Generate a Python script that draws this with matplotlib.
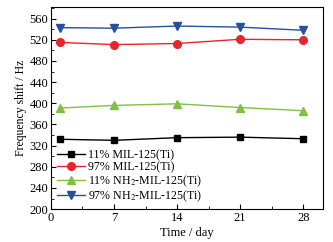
import matplotlib
matplotlib.use("Agg")
import matplotlib.pyplot as plt
from matplotlib.ticker import MultipleLocator

# data
days = [1, 7, 14, 21, 28]
mil_11 = [332, 330, 335, 336, 333]
mil_97 = [515, 511, 513, 521, 520]
nh2_11 = [391, 396, 399, 392, 386]
nh2_97 = [543, 542, 546, 544, 538]
labels = ["11% MIL-125(Ti)", "97% MIL-125(Ti)",
          "11% NH$_2$-MIL-125(Ti)", "97% NH$_2$-MIL-125(Ti)"]

plt.rcParams["font.family"] = ["Liberation Serif", "DejaVu Serif"]
plt.rcParams["mathtext.fontset"] = "stix"

fig = plt.figure(figsize=(3.33, 2.42), dpi=100)
ax = fig.add_axes([0.153, 0.136, 0.817, 0.835])

ax.plot(days, mil_11, color="black", marker="s", ms=5, lw=1, label=labels[0])
ax.plot(days, mil_97, color="#e8262a", marker="o", ms=5.5, lw=1, label=labels[1])
ax.plot(days, nh2_11, color="#7dc243", marker="^", ms=6, lw=1, label=labels[2])
ax.plot(days, nh2_97, color="#2a4ea0", marker="v", ms=6, lw=1, label=labels[3])

ax.set_xlim(0, 30.2)
ax.set_ylim(200, 582)
ax.xaxis.set_major_locator(MultipleLocator(7))
ax.xaxis.set_minor_locator(MultipleLocator(3.5))
ax.yaxis.set_major_locator(MultipleLocator(40))
ax.yaxis.set_minor_locator(MultipleLocator(20))
ax.tick_params(which="both", direction="in", top=False, right=False, labelsize=9, pad=2)
ax.tick_params(which="major", length=3.5)
ax.tick_params(which="minor", length=2)

ax.set_xlabel("Time / day", fontsize=9, labelpad=2)
ax.set_ylabel("Frequency shift / Hz", fontsize=8.5, labelpad=2)

ax.legend(loc="lower left", frameon=False, fontsize=8.6, handlelength=2.3,
          labelspacing=0.0, handletextpad=0.3, borderaxespad=0.0,
          bbox_to_anchor=(0.005, 0.0))

plt.savefig("out.png", dpi=100)
